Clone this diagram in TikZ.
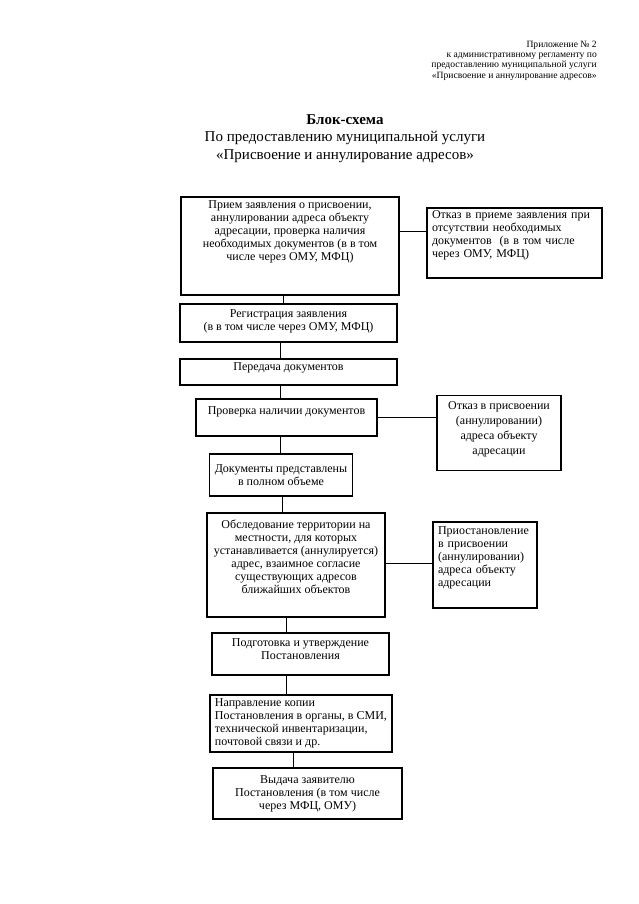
\documentclass[tikz,border=0pt]{standalone}
\usepackage{fontspec}
\setmainfont{Liberation Serif}
\newcommand{\zapas}[1]{\\[#1]\mbox{}}
\tikzset{
  blok/.style={draw, line width=1.1pt, align=center, inner xsep=5pt, inner ysep=1pt},
  blokl/.style={blok, align=left},
  svyaz/.style={line width=0.9pt}
}
\begin{document}
\begin{tikzpicture}[x=1pt, y=-1pt, font=\fontsize{12}{13}\selectfont]
    \useasboundingbox (0,0) rectangle (639,904);
    \node[anchor=east, align=right, inner sep=0pt, font=\fontsize{9.6}{10.4}\selectfont] (prilozh) at (597,60.5)
        {Приложение № 2\\ к административному регламенту по\\ предоставлению муниципальной услуги\\ «Присвоение и аннулирование адресов»};
    \node[align=center, font=\fontsize{15}{17.5}\selectfont] (zag) at (345,138.5)
        {\textbf{Блок-схема}\\ По предоставлению муниципальной услуги\\ «Присвоение и аннулирование адресов»};

    \node[blok, minimum width=218pt, minimum height=98pt] (b1) at (290,246)
        {Прием заявления о присвоении,\\ аннулировании адреса объекту\\ адресации, проверка наличия\\ необходимых документов (в в том\\ числе через ОМУ, МФЦ)\zapas{18pt}};
    \node[blokl, text width=165pt, minimum height=70pt] (r1) at (514.5,243)
        {Отказ в приеме заявления при\\ отсутствии необходимых\\ документов~ (в в том числе\\ через ОМУ, МФЦ)\zapas{5pt}};
    \node[blok, minimum width=217pt, minimum height=38pt] (b2) at (288.5,323)
        {Регистрация заявления\\ (в в том числе через ОМУ, МФЦ)\zapas{-7pt}};
    \node[blok, minimum width=217pt, minimum height=26pt] (b3) at (288.5,372)
        {Передача документов\zapas{-3pt}};
    \node[blok, minimum width=181pt, minimum height=37pt] (b4) at (286.5,417.5)
        {Проверка наличии документов\zapas{0pt}};
    \node[blok, minimum width=124pt, minimum height=75pt] (r4) at (499,433)
        {Отказ в присвоении\\[2pt] (аннулировании)\\[2pt] адреса объекту\\[2pt] адресации\zapas{-3pt}};
    \node[blok, minimum width=142pt, minimum height=42pt] (b5) at (281,475)
        {Документы представлены\\ в полном объеме};
    \node[blok, minimum width=178pt, minimum height=104pt] (b6) at (296,565)
        {Обследование территории на\\ местности, для которых\\ устанавливается (аннулируется)\\ адрес, взаимное согласие\\ существующих адресов\\ ближайших объектов\zapas{4pt}};
    \node[blokl, text width=94pt, minimum height=86pt] (r6) at (485,565)
        {Приостановление\\ в присвоении\\ (аннулировании)\\ адреса объекту\\ адресации\zapas{3pt}};
    \node[blokl, minimum width=182pt, minimum height=57pt, inner xsep=2pt] (b8) at (301,723.5)
        {Направление копии\\ Постановления в органы, в СМИ,\\ технической инвентаризации,\\ почтовой связи и др.};
    \node[blok, minimum width=177pt, minimum height=42pt] (b7) at (300.5,654)
        {Подготовка и утверждение\\ Постановления\zapas{-3pt}};
    \node[blok, minimum width=189pt, minimum height=51pt] (b9) at (307.5,793.5)
        {Выдача заявителю\\ Постановления (в том числе\\ через МФЦ, ОМУ)};

    \draw[svyaz] ([xshift=-7pt]b1.south) -- ([xshift=-7pt]b1.south |- b2.north);
    \draw[svyaz] ([xshift=-8.5pt]b2.south) -- ([xshift=-8.5pt]b2.south |- b3.north);
    \draw[svyaz] ([xshift=-8.5pt]b3.south) -- ([xshift=-8.5pt]b3.south |- b4.north);
    \draw[svyaz] ([xshift=-6.5pt]b4.south) -- ([xshift=-6.5pt]b4.south |- b5.north);
    \draw[svyaz] ([xshift=1pt]b5.south) -- ([xshift=1pt]b5.south |- b6.north);
    \draw[svyaz] ([xshift=-10pt]b6.south) -- ([xshift=-10pt]b6.south |- b7.north);
    \draw[svyaz] ([xshift=-14.5pt]b7.south) -- ([xshift=-14.5pt]b7.south |- b8.north);
    \draw[svyaz] ([xshift=-8pt]b8.south) -- ([xshift=-8pt]b8.south |- b9.north);
    \draw[svyaz] ([yshift=15pt]b1.east) -- ([yshift=15pt]b1.east -| r1.west);
    \draw[svyaz] (b4.east) -- (b4.east -| r4.west);
    \draw[svyaz] ([yshift=2pt]b6.east) -- ([yshift=2pt]b6.east -| r6.west);
\end{tikzpicture}
\end{document}
